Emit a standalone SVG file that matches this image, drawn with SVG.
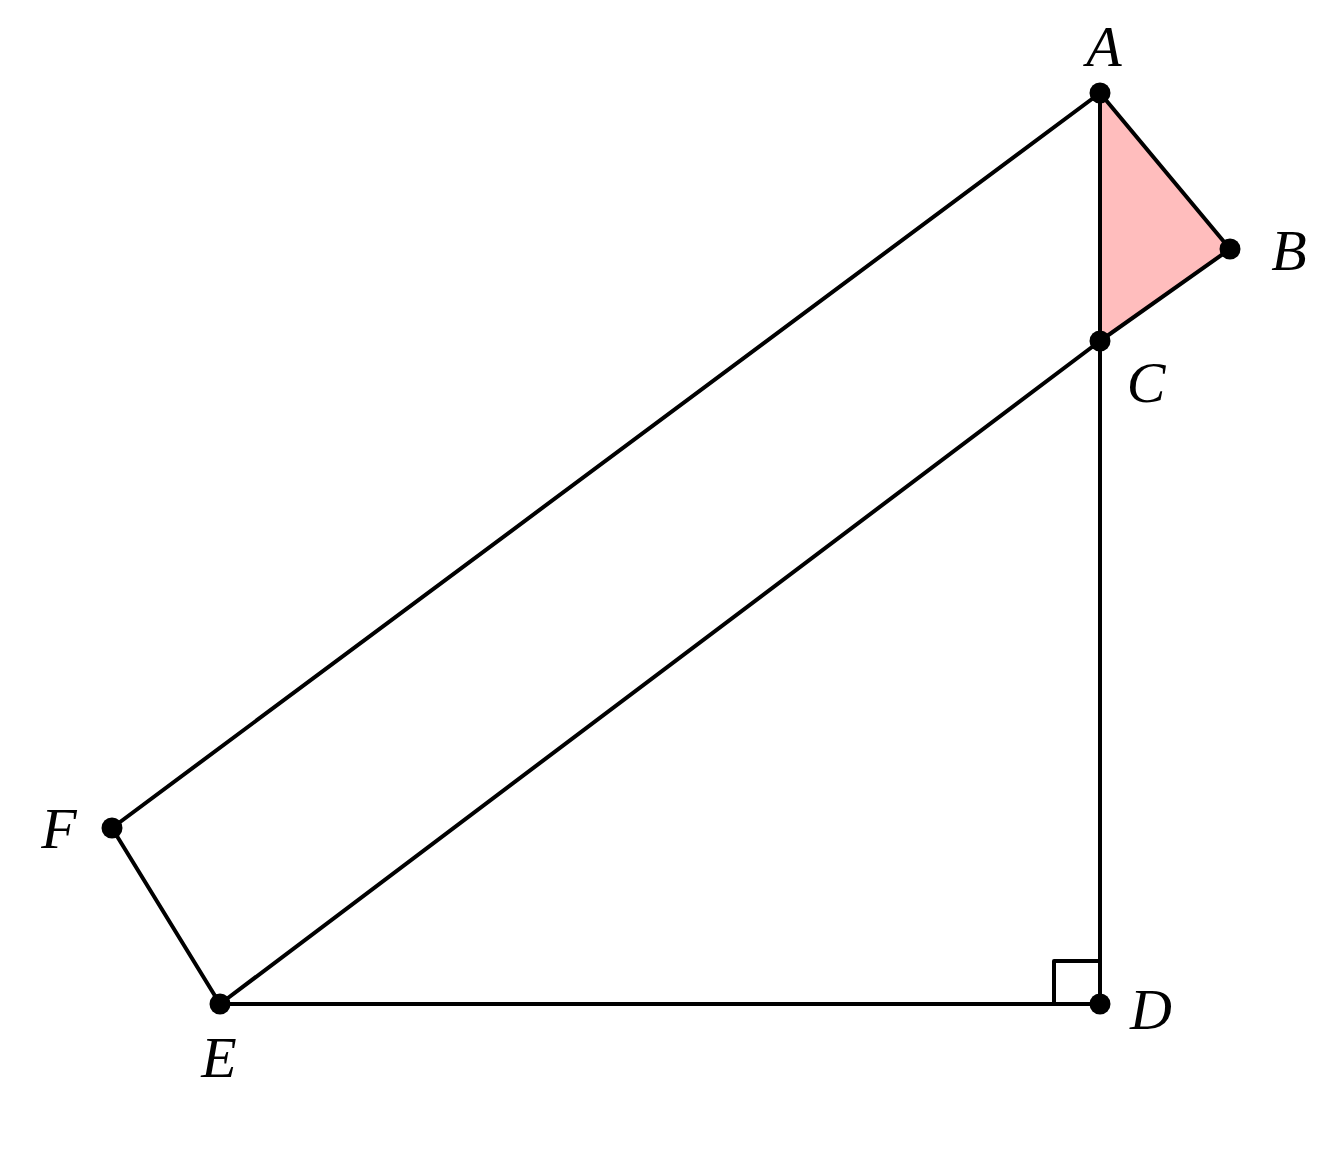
<svg xmlns="http://www.w3.org/2000/svg" width="1344" height="1170" viewBox="0 0 1344 1170">
<style>
.ln{stroke:#000;stroke-width:4;fill:none;stroke-linecap:round;stroke-linejoin:round}
.pt{fill:#000}
.lb{font-family:"Liberation Serif","DejaVu Serif",serif;font-style:italic;font-size:58px;fill:#000}
</style>
<rect width="1344" height="1170" fill="#fff"/>
<g id="shade">
<polygon points="1100,93 1230,249 1100,341" fill="#ffbdbd"/>
</g>
<g id="connectors">
<line class="ln" x1="1100" y1="93" x2="112" y2="828"/>
<line class="ln" x1="112" y1="828" x2="220" y2="1004"/>
<line class="ln" x1="220" y1="1004" x2="1100" y2="341"/>
<line class="ln" x1="220" y1="1004" x2="1100" y2="1004"/>
<line class="ln" x1="1100" y1="93" x2="1100" y2="1004"/>
<line class="ln" x1="1100" y1="93" x2="1230" y2="249"/>
<line class="ln" x1="1230" y1="249" x2="1100" y2="341"/>
<polyline class="ln" points="1054,1004 1054,961 1100,961"/>
</g>
<g id="A"><circle class="pt" cx="1100" cy="93" r="10.5"/><text class="lb" x="1104" y="66" text-anchor="middle">A</text></g>
<g id="B"><circle class="pt" cx="1230" cy="249" r="10.5"/><text class="lb" x="1289" y="270" text-anchor="middle">B</text></g>
<g id="C"><circle class="pt" cx="1100" cy="341" r="10.5"/><text class="lb" x="1146" y="402" text-anchor="middle">C</text></g>
<g id="D"><circle class="pt" cx="1100" cy="1004" r="10.5"/><text class="lb" x="1151" y="1029" text-anchor="middle">D</text></g>
<g id="E"><circle class="pt" cx="220" cy="1004" r="10.5"/><text class="lb" x="219" y="1077" text-anchor="middle">E</text></g>
<g id="F"><circle class="pt" cx="112" cy="828" r="10.5"/><text class="lb" x="59" y="848" text-anchor="middle">F</text></g>
</svg>
